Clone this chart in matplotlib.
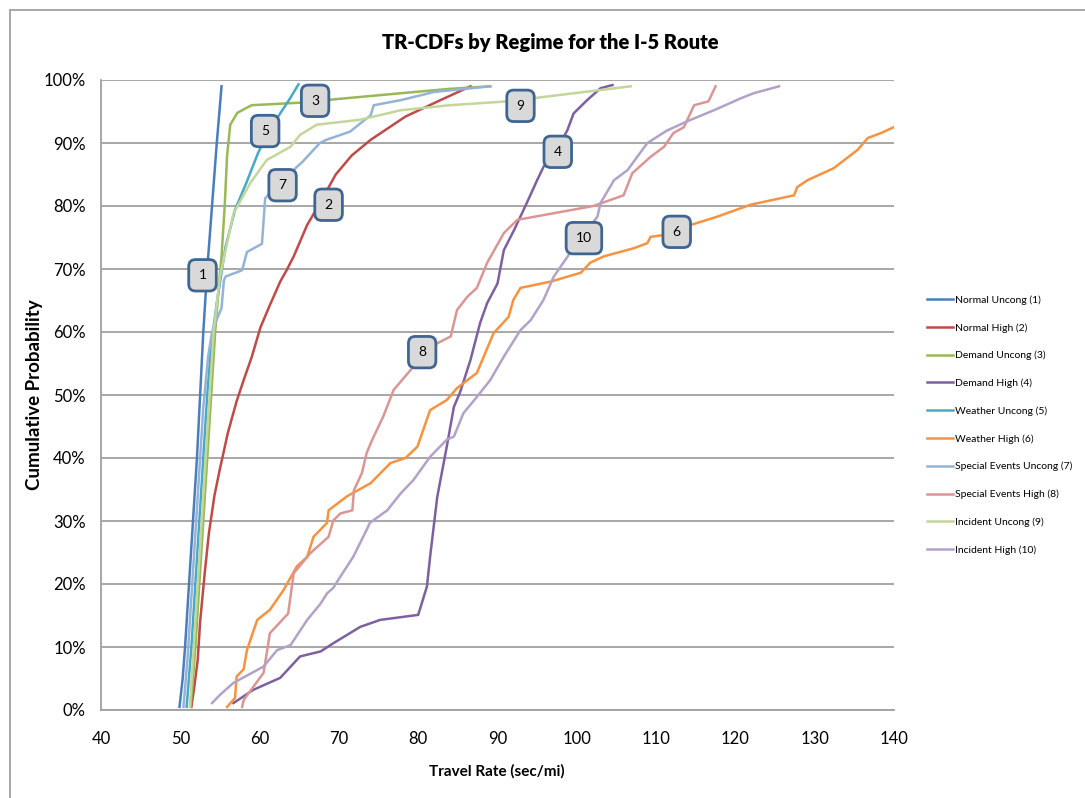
import matplotlib
matplotlib.use("Agg")
import matplotlib.pyplot as plt
from matplotlib.patches import Rectangle
from matplotlib.ticker import FuncFormatter

plt.rcParams['font.family'] = ['Lato', 'DejaVu Sans']

# travel rate (sec/mi) vs cumulative probability (%)
normal_uncong_x = [49.9, 50.3, 50.6, 51.1, 51.6, 52.1, 52.5, 52.9, 53.4, 54.0, 54.6, 55.2]
normal_uncong_y = [0.5, 5, 10, 20, 30, 40, 50, 60, 70, 80, 90, 99]

normal_high_x = [51.4, 51.8, 52.2, 52.5, 53.1, 53.6, 54.3, 55.0, 56.0, 57.1, 58.0, 59.0, 60.1, 61.2,
                 62.6, 63.4, 64.3, 66.0, 67.4, 69.6, 71.6, 74.0, 78.4, 82.8, 86.6]
normal_high_y = [0.5, 4, 8, 14, 22, 28, 34, 38.3, 44, 49, 52.4, 56, 60.7, 64,
                 68, 69.8, 72, 77.0, 80.0, 85.0, 88, 90.5, 94.2, 96.8, 99]

demand_uncong_x = [51.3, 51.6, 51.9, 52.4, 52.9, 53.4, 53.9, 54.4, 54.9, 55.2, 55.6, 55.9, 56.3,
                   57.2, 59.0, 65.1, 70.0, 77.8, 84.0, 89.1]
demand_uncong_y = [0.5, 5, 10, 20, 30, 40, 50, 60, 68, 72, 80, 88, 92.9,
                   94.8, 96.0, 96.4, 97.0, 97.9, 98.6, 99]

demand_high_x = [56.7, 59.2, 62.6, 65.1, 67.7, 69.3, 72.7, 75.2, 80.0, 81.1, 81.5, 82.4, 83.6, 84.5,
                 85.3, 86.6, 87.8, 88.7, 90.0, 90.8, 92.1, 93.7, 95.0, 95.8, 97.5, 98.8, 99.6,
                 101.3, 103.0, 104.5]
demand_high_y = [1.1, 3.2, 5.1, 8.5, 9.3, 10.6, 13.2, 14.3, 15.1, 19.6, 24.3, 33.8, 41.8, 48.1,
                 50.5, 55.6, 61.4, 64.6, 67.7, 73, 76.2, 80.5, 84.1, 86.2, 89, 92, 94.7,
                 96.8, 98.7, 99.2]

weather_uncong_x = [50.8, 51.4, 51.9, 52.4, 52.9, 53.4, 53.9, 54.6, 55.7, 56.9, 58.4, 59.8, 61.2,
                    62.6, 63.8, 64.9]
weather_uncong_y = [0.5, 10, 20, 30, 40, 50, 58, 64.6, 73.5, 79.4, 83.9, 88.4, 92,
                    94.7, 97, 99.3]

weather_high_x = [55.9, 56.9, 57.1, 58.0, 58.4, 59.7, 61.3, 63.0, 64.7, 66.0, 66.8, 68.5, 68.7,
                  71.0, 74.0, 76.5, 78.4, 79.9, 81.5, 83.6, 84.9, 87.4, 89.5, 91.4, 92.0, 92.9,
                  96.7, 100.5, 101.7, 103.4, 107.2, 108.9, 109.3, 111.0, 114.4, 117.7, 121.9,
                  127.4, 127.8, 129.1, 132.4, 135.4, 136.7, 138.4, 140.3]
weather_high_y = [0.5, 1.9, 5.3, 6.5, 9.5, 14.3, 15.9, 19, 22.8, 24.3, 27.5, 29.7, 31.7,
                  33.9, 36, 39.2, 40, 41.8, 47.6, 49.2, 51.1, 53.5, 59.8, 62.4, 65.1, 67,
                  68, 69.4, 71, 72, 73.3, 74.1, 75.1, 75.4, 77, 78.3, 80.2,
                  81.7, 83, 84.1, 86, 88.9, 90.8, 91.6, 92.7]

special_uncong_x = [50.4, 50.9, 51.4, 51.9, 52.4, 52.9, 53.5, 54.0, 54.6, 55.2, 55.5, 55.7, 57.8,
                    58.4, 60.3, 60.7, 61.6, 64.7, 65.4, 67.6, 68.4, 71.4, 74.0, 74.4, 77.8, 82.0, 89.1]
special_uncong_y = [0.5, 8, 18, 28, 38, 48, 56, 60, 62, 63.8, 68.2, 68.8, 69.8,
                    72.7, 74, 81.2, 82.5, 86.2, 87, 90, 90.5, 91.8, 94.4, 96, 96.8, 98.1, 99]

special_high_x = [57.8, 58.0, 60.5, 61.3, 63.6, 64.3, 66.4, 68.7, 69.3, 70.2, 71.7, 71.9, 72.9,
                  73.5, 74.2, 75.6, 76.9, 79.4, 82.4, 84.1, 84.9, 86.2, 87.4, 88.7, 90.8, 92.5,
                  102.1, 105.9, 107.0, 109.3, 111.0, 112.2, 113.5, 114.8, 116.6, 117.5]
special_high_y = [0.5, 1.6, 5.9, 12.2, 15.3, 21.7, 24.9, 27.5, 30.1, 31.2, 31.7, 34.9, 37.6,
                  40.8, 42.9, 46.6, 50.8, 54.5, 58.2, 59.3, 63.5, 65.6, 67, 71, 75.7, 77.8,
                  80, 81.7, 85.2, 87.8, 89.4, 91.6, 92.5, 96, 96.6, 99]

incident_uncong_x = [51.2, 51.7, 52.2, 52.7, 53.2, 53.7, 54.2, 55.0, 56.7, 58.8, 60.9, 63.9, 65.1,
                     67.2, 72.7, 77.8, 84.0, 91.2, 99.0, 106.8]
incident_uncong_y = [0.5, 10, 20, 30, 40, 50, 60, 68.8, 78.8, 83.6, 87.3, 89.4, 91.3,
                     92.9, 93.7, 95.2, 96, 96.6, 97.8, 99]

incident_high_x = [54.0, 55.0, 56.7, 60.5, 62.2, 63.9, 66.0, 67.7, 68.5, 69.3, 70.2, 71.8, 73.5,
                   73.9, 76.1, 77.8, 79.4, 81.5, 83.6, 84.5, 85.7, 87.4, 89.1, 90.8, 92.9, 94.2,
                   95.8, 97.1, 98.8, 100.5, 102.6, 103.0, 104.7, 106.4, 108.9, 111.4, 114.4,
                   117.3, 120.7, 122.3, 125.5]
incident_high_y = [1.1, 2.4, 4.3, 6.9, 9.5, 10.3, 14.3, 16.9, 18.5, 19.4, 21.2, 24.3, 28.6,
                   29.7, 31.7, 34.4, 36.5, 40.2, 42.9, 43.4, 47.1, 49.7, 52.4, 56.1, 60.3, 61.9,
                   65.1, 68.8, 71.9, 75, 78.3, 80.5, 84.1, 85.7, 90, 92, 93.7,
                   95.2, 97.1, 97.9, 99]

series_names = ['Normal Uncong (1)', 'Normal High (2)', 'Demand Uncong (3)', 'Demand High (4)',
                'Weather Uncong (5)', 'Weather High (6)', 'Special Events Uncong (7)',
                'Special Events High (8)', 'Incident Uncong (9)', 'Incident High (10)']
series_x = [normal_uncong_x, normal_high_x, demand_uncong_x, demand_high_x, weather_uncong_x,
            weather_high_x, special_uncong_x, special_high_x, incident_uncong_x, incident_high_x]
series_y = [normal_uncong_y, normal_high_y, demand_uncong_y, demand_high_y, weather_uncong_y,
            weather_high_y, special_uncong_y, special_high_y, incident_uncong_y, incident_high_y]
colors = ['#4A7EBB', '#BE4B48', '#98B954', '#7D60A0', '#46AAC5',
          '#F69240', '#95B3D7', '#DA9694', '#C3D69B', '#B3A2C7']

# callout numbers and where they sit (travel rate, %)
callout_text = ['1', '2', '3', '4', '5', '6', '7', '8', '9', '10']
callout_pos = [(52.8, 69.0), (68.7, 80.2), (67.0, 96.7), (97.6, 88.6), (60.7, 91.9),
               (112.6, 75.9), (62.9, 83.3), (80.5, 56.8), (92.9, 95.9), (100.9, 74.9)]

fig = plt.figure(figsize=(10.85, 7.98), dpi=100)
ax = fig.add_axes([101 / 1085, 1 - 710 / 798, (894 - 101) / 1085, (710 - 80) / 798])

for x, y, c, name in zip(series_x, series_y, colors, series_names):
    ax.plot(x, y, color=c, lw=1.8, label=name, solid_joinstyle='round')

for txt, (cx, cy) in zip(callout_text, callout_pos):
    ax.text(cx, cy, txt, ha='center', va='center', fontsize=10, color='black', zorder=5,
            bbox=dict(boxstyle='round,pad=0.7,rounding_size=0.5', fc='#D9D9D9',
                      ec='#3F6591', lw=2))

ax.set_xlim(40, 140)
ax.set_ylim(0, 100)
ax.set_xticks(range(40, 141, 10))
ax.set_yticks(range(0, 101, 10))
ax.yaxis.set_major_formatter(FuncFormatter(lambda v, p: f'{v:.0f}%'))
ax.tick_params(length=0, labelsize=12)
ax.tick_params(axis='x', pad=15)
ax.tick_params(axis='y', pad=11)
ax.grid(axis='y', color='#A0A0A0', lw=1.3)
ax.set_axisbelow(True)
for side in ['top', 'right']:
    ax.spines[side].set_visible(False)
for side in ['left', 'bottom']:
    ax.spines[side].set_color('#A0A0A0')
    ax.spines[side].set_linewidth(1.3)

fig.text(550 / 1085, 1 - 42 / 798, 'TR-CDFs by Regime for the I-5 Route', ha='center', va='center',
         fontsize=14.5, fontweight='heavy')
fig.text(35 / 1085, 1 - 395 / 798, 'Cumulative Probability', ha='center', va='center',
         rotation=90, fontsize=13.5, fontweight='bold')
fig.text(497 / 1085, 1 - 771 / 798, 'Travel Rate (sec/mi)', ha='center', va='center',
         fontsize=11, fontweight='bold')

fig.legend(loc='upper left', bbox_to_anchor=(922 / 1085, 1 - 290 / 798), frameon=False,
           fontsize=7.5, handlelength=2.5, handletextpad=0.15, labelspacing=1.75, borderpad=0)

# outer chart frame
fig.patches.append(Rectangle((10 / 1085, -0.05), 1.1, 1 - 10 / 798 + 0.05, transform=fig.transFigure,
                             fill=False, ec='#A0A0A0', lw=1.3))

fig.savefig('out.png', dpi=100)
